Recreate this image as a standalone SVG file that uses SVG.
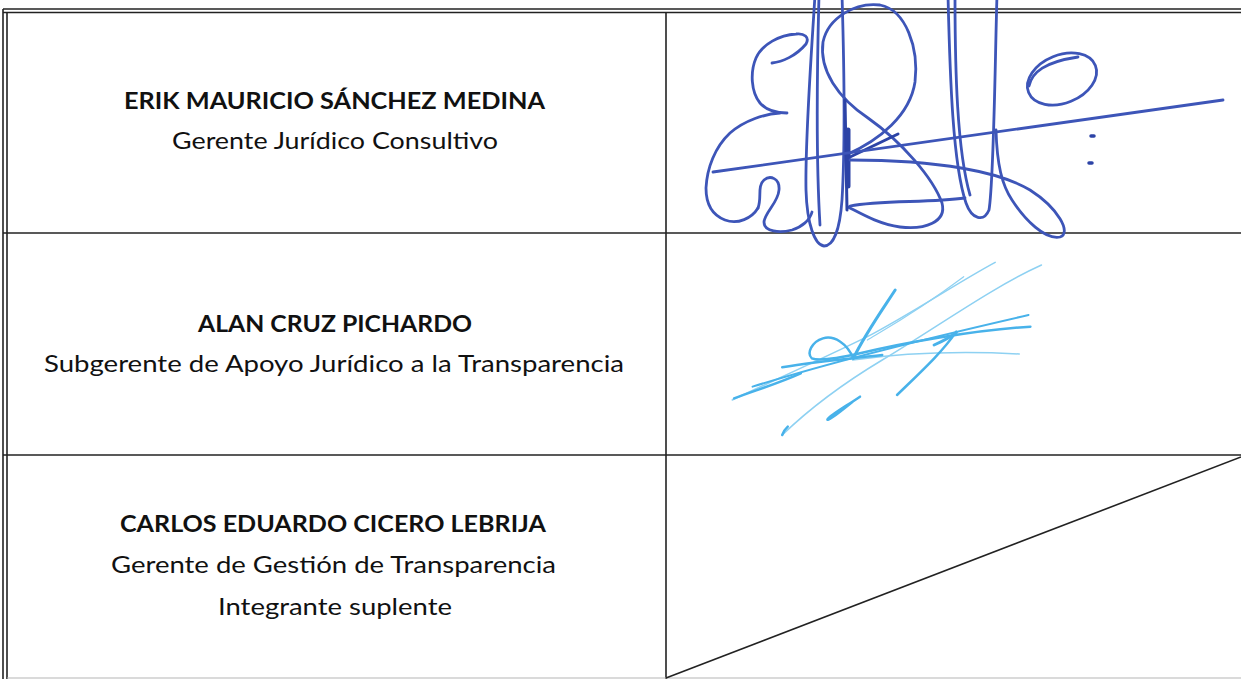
<svg xmlns="http://www.w3.org/2000/svg" width="1241" height="679" viewBox="0 0 1241 679">
<style>
.bg{fill:#ffffff}
.ln{stroke:#222222;stroke-width:1.6;fill:none}
.lnf{stroke:#b5b5b5;stroke-width:1.2;fill:none}
.nm{font-family:Lato,"Noto Sans",sans-serif;font-weight:bold;font-size:23px;fill:#111111;text-anchor:middle}
.rl{font-family:Lato,"Noto Sans",sans-serif;font-size:23px;fill:#111111;text-anchor:middle}
.s1{stroke:#3d55b8;stroke-width:2.8;fill:none;stroke-linecap:round;stroke-linejoin:round}
.s1d{stroke:#2c43a6;fill:none;stroke-linecap:round}
.s2{stroke:#48b2ea;fill:none;stroke-linecap:round;stroke-linejoin:round;vector-effect:non-scaling-stroke}
.s2l{stroke:#8ed1f2;fill:none;stroke-linecap:round;vector-effect:non-scaling-stroke}
</style>
<rect class="bg" x="0" y="0" width="1241" height="679"/>

<g id="table">
  <line class="ln" x1="3" y1="9" x2="1241" y2="9"/>
  <line class="ln" x1="3" y1="12.5" x2="1241" y2="12.5" stroke-width="1.2"/>
  <line class="ln" x1="3" y1="9" x2="3" y2="679"/>
  <line class="ln" x1="7" y1="12.5" x2="7" y2="679" stroke-width="1.2"/>
  <line class="ln" x1="3" y1="233" x2="1241" y2="233" stroke-width="2"/>
  <line class="ln" x1="3" y1="455" x2="1241" y2="455" stroke-width="2"/>
  <line class="ln" x1="666" y1="12.5" x2="666" y2="679"/>
  <line class="lnf" x1="7" y1="678" x2="1241" y2="678"/>
  <line class="ln" x1="666" y1="678" x2="1241" y2="457" stroke-width="2"/>
</g>

<g id="row1">
  <text class="nm" x="334.5" y="109" textLength="421" lengthAdjust="spacingAndGlyphs">ERIK MAURICIO SÁNCHEZ MEDINA</text>
  <text class="rl" x="335" y="149" textLength="326" lengthAdjust="spacingAndGlyphs">Gerente Jurídico Consultivo</text>
</g>

<g id="row2">
  <text class="nm" x="335" y="332" textLength="274" lengthAdjust="spacingAndGlyphs">ALAN CRUZ PICHARDO</text>
  <text class="rl" x="334" y="372" textLength="580" lengthAdjust="spacingAndGlyphs">Subgerente de Apoyo Jurídico a la Transparencia</text>
</g>

<g id="row3">
  <text class="nm" x="333" y="532" textLength="426" lengthAdjust="spacingAndGlyphs">CARLOS EDUARDO CICERO LEBRIJA</text>
  <text class="rl" x="333.5" y="573" textLength="445" lengthAdjust="spacingAndGlyphs">Gerente de Gestión de Transparencia</text>
  <text class="rl" x="335" y="615" textLength="234" lengthAdjust="spacingAndGlyphs">Integrante suplente</text>
</g>

<g id="signature1">
  <path class="s1" d="M772,63 C782,62 796,56 806,44 C810,37 804,33 796,34 C780,35 762,44 756,58 C750,72 751,92 760,103 C766,110 774,113 787,113"/>
  <path class="s1" d="M780,113 C765,114 745,120 730,133 C715,147 707,168 706,188 C706,203 712,215 725,220 C738,225 752,218 758,208"/>
  <path class="s1" d="M758,208 C762,198 757,186 764,180 C770,175 780,178 779,190 C778,203 765,212 764,222 C764,232 780,233 792,230 C802,227 810,220 812,212"/>
  <path class="s1" d="M815,-5 C811,60 805,140 806,190 C807,225 815,245 824,246 C834,246 840,228 842,200 C845,150 844,60 842,-5"/>
  <path class="s1" d="M819,-5 C817,70 816,160 820,225" stroke-width="2"/>
  <path class="s1" d="M846,155 C880,140 910,115 915,82 C919,48 906,10 880,5 C855,2 828,18 823,42 C819,70 838,98 868,118 C902,142 933,178 942,203 C947,222 925,230 900,227 C878,224 860,213 848,207"/>
  <path class="s1d" d="M845,100 L847,210" stroke-width="3"/>
  <path class="s1d" d="M848,130 L848,186" stroke-width="5"/>
  <path class="s1d" d="M850,157 L898,134" stroke-width="3"/>
  <path class="s1" d="M850,206 C880,200 930,203 965,198"/>
  <path class="s1" d="M948,-5 C950,80 953,165 966,203 C972,220 984,222 989,210 C994,180 995,60 997,-5"/>
  <path class="s1" d="M955,-5 C955,70 957,150 970,195" stroke-width="2"/>
  <path class="s1" d="M996,130 C997,165 1002,185 1012,200 C1025,220 1045,240 1060,237 C1072,233 1058,208 1030,190 C1000,172 940,160 850,160"/>
  <path class="s1" d="M713,172 L1223,100"/>
  <ellipse class="s1" cx="1062" cy="79" rx="36" ry="24" transform="rotate(-22 1062 79)"/>
  <path class="s1" d="M1029,86 C1032,72 1045,62 1078,57"/>
  <path class="s1d" d="M1091,136 l3,0 M1089,163 l3,0" stroke-width="3.5"/>
</g>

<g id="signature2" transform="translate(660,230) scale(0.37037,0.33333)">
  <path class="s2l" d="M195,510 C300,455 450,380 560,320 C680,250 800,160 905,97" stroke-width="1.5"/>
  <path class="s2l" d="M330,615 C400,540 480,470 600,390 C750,290 900,170 1030,105" stroke-width="1.5"/>
  <path class="s2l" d="M520,390 C650,370 800,362 970,372" stroke-width="1.5"/>
  <path class="s2l" d="M560,330 C620,290 700,240 820,140" stroke-width="1.2"/>
  <path class="s2" d="M635,180 C600,240 555,310 522,385" stroke-width="3"/>
  <path class="s2" d="M522,385 C505,340 470,315 440,325 C410,335 395,370 410,385 C430,395 480,385 540,370 C650,340 850,300 1000,290" stroke-width="2.5"/>
  <path class="s2" d="M250,470 C450,400 700,330 995,255" stroke-width="2"/>
  <path class="s2" d="M330,412 C420,395 520,385 600,375" stroke-width="2.5"/>
  <path class="s2" d="M800,305 C760,370 700,430 640,495" stroke-width="2.5"/>
  <path class="s2" d="M740,345 C760,335 785,320 800,308" stroke-width="3"/>
  <path class="s2" d="M540,500 C500,530 460,555 452,568 C450,575 470,560 520,515" stroke-width="2.5"/>
  <path class="s2" d="M200,505 C260,480 320,460 380,430" stroke-width="2.5"/>
  <path class="s2" d="M330,615 C335,600 340,595 345,590" stroke-width="2.5"/>
</g>
</svg>
